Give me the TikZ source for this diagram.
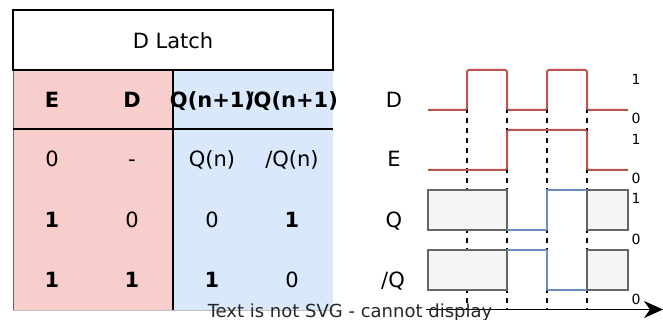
\documentclass[tikz,border=0pt]{standalone}
\usepackage{fontspec}
\setmainfont{DejaVu Sans}
\usetikzlibrary{arrows.meta}
\definecolor{pinkf}{HTML}{F8CECC}
\definecolor{bluef}{HTML}{DAE8FC}
\definecolor{redl}{HTML}{B85450}
\definecolor{bluel}{HTML}{6C8EBF}
\definecolor{greyf}{HTML}{F5F5F5}
\definecolor{greyl}{HTML}{666666}
\tikzset{
  cell/.style={inner sep=0pt, anchor=base, font=\fontsize{21}{25}\selectfont},
  bcell/.style={inner sep=0pt, anchor=base, font=\fontsize{21}{25}\selectfont\bfseries},
  lvl/.style={inner sep=0pt, anchor=base, font=\fontsize{14}{17}\selectfont},
  sig/.style={line width=2pt, redl, line join=round, rounded corners=1.5pt},
  outsig/.style={line width=2pt, bluel, line join=round},
  gbox/.style={fill=greyf, draw=greyl, line width=2pt},
  guide/.style={line width=2pt, dash pattern=on 5pt off 5pt},
}
\begin{document}
\begin{tikzpicture}[x=1pt,y=-1pt]
\useasboundingbox (0,0) rectangle (663,320);
% table
\fill[pinkf] (13,70) rectangle (173,310);
\fill[bluef] (173,70) rectangle (333,310);
\draw[black!25, line width=1pt] (13,310.5) -- (333,310.5);
\draw[greyl, line width=1pt] (13,70) -- (13,310);
\draw[line width=2pt] (13,10) rectangle (333,70);
\draw[line width=2pt] (173,70) -- (173,310);
\draw[line width=2pt] (13,129) -- (333,129);
\node[cell] (title) at (173,48.5) {D Latch};
\node[bcell] (hE) at (52,108) {E};
\node[bcell] (hD) at (132,108) {D};
\node[bcell] (hQ) at (212,108) {Q(n+1)};
\node[bcell] (hNQ) at (292,108) {/Q(n+1)};
\node[cell] (a1) at (52,167) {0};
\node[cell] (a2) at (132,167) {-};
\node[cell] (a3) at (212,167) {Q(n)};
\node[cell] (a4) at (292,167) {/Q(n)};
\node[bcell] (b1) at (52,227) {1};
\node[cell] (b2) at (132,227) {0};
\node[cell] (b3) at (212,227) {0};
\node[bcell] (b4) at (292,227) {1};
\node[bcell] (c1) at (52,287) {1};
\node[bcell] (c2) at (132,287) {1};
\node[bcell] (c3) at (212,287) {1};
\node[cell] (c4) at (292,287) {0};
% signal labels
\node[cell] (lD) at (394,108) {D};
\node[cell] (lE) at (394,167) {E};
\node[cell] (lQ) at (394,227) {Q};
\node[cell] (lNQ) at (393,287) {/Q};
% level labels
\node[lvl] (v1) at (636,85) {1};
\node[lvl] (v2) at (636,124) {0};
\node[lvl] (v3) at (636,145) {1};
\node[lvl] (v4) at (636,184) {0};
\node[lvl] (v5) at (636,204) {1};
\node[lvl] (v6) at (636,244) {0};
\node[lvl] (v7) at (636,304) {0};
% guides
\foreach \x in {467,507,547,587} \draw[guide] (\x,88) -- (\x,310);
% boxes
\draw[gbox] (428,190) rectangle (507,230);
\draw[gbox] (587,190) rectangle (628,230);
\draw[gbox] (428,250) rectangle (507,290);
\draw[gbox] (587,250) rectangle (628,290);
% signals
\draw[sig] (428,110) -- (467,110) -- (467,70) -- (507,70) -- (507,110) -- (547,110) -- (547,70) -- (587,70) -- (587,110) -- (628,110);
\draw[sig] (428,170) -- (507,170) -- (507,130) -- (587,130) -- (587,170) -- (628,170);
\draw[outsig] (507,230) -- (547,230) -- (547,190) -- (587,190);
\draw[outsig] (507,250) -- (547,250) -- (547,290) -- (587,290);
% axis
\coordinate (ax0) at (426,309.5);
\coordinate (ax1) at (663,309.5);
\draw[line width=1.6pt, -{Stealth[length=19pt,width=17pt,inset=6pt]}] (ax0) -- (ax1);
\node[inner sep=0pt, anchor=base, font=\fontsize{18}{21}\selectfont, text=black!85] (msg) at (350,317.5) {Text is not SVG - cannot display};
\end{tikzpicture}
\end{document}
